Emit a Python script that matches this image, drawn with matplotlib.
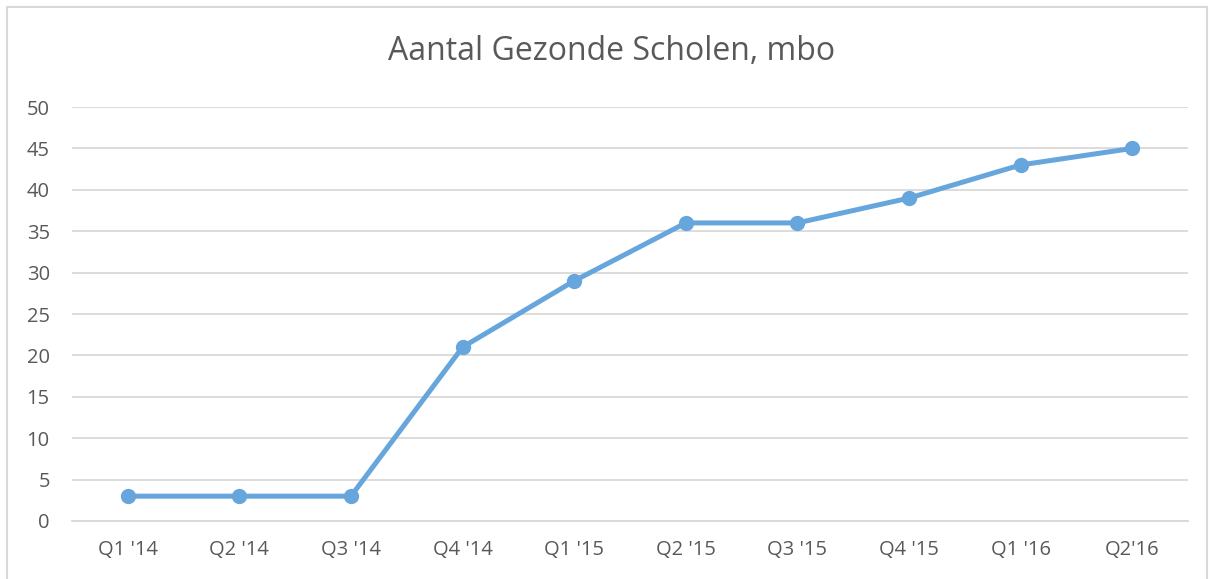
import matplotlib
matplotlib.use('Agg')
from matplotlib import pyplot as plt
from matplotlib.patches import Rectangle

quarters = ["Q1 '14", "Q2 '14", "Q3 '14", "Q4 '14", "Q1 '15", "Q2 '15",
            "Q3 '15", "Q4 '15", "Q1 '16", "Q2'16"]
scholen = [3, 3, 3, 21, 29, 36, 36, 39, 43, 45]
yticks = [0, 5, 10, 15, 20, 25, 30, 35, 40, 45, 50]

plt.rcParams['font.family'] = ['Open Sans', 'DejaVu Sans']
grey = '#595959'

fig = plt.figure(figsize=(12.13, 5.79), dpi=100)
# light frame around the chart
fig.patches.append(Rectangle((7/1213, -0.01), 1200/1213, 1 - 7/579 + 0.01,
                             transform=fig.transFigure, fill=False,
                             edgecolor='#d9d9d9', linewidth=1.5))

ax = fig.add_axes([72/1213, 58/579, 1116/1213, 414/579])
x = list(range(len(quarters)))
ax.plot(x, scholen, color='#67a6dc', linewidth=3.6, marker='o',
        markersize=10, zorder=3)

ax.set_xlim(-0.5, len(quarters) - 0.5)
ax.set_ylim(0, 50)
ax.set_yticks(yticks)
ax.set_xticks(x)
ax.set_xticklabels(quarters)
ax.grid(axis='y', color='#d9d9d9', linewidth=1.3)
ax.set_axisbelow(True)
for s in ['top', 'right', 'left']:
    ax.spines[s].set_visible(False)
ax.spines['bottom'].set_color('#d9d9d9')
ax.spines['bottom'].set_linewidth(1.3)
ax.tick_params(length=0, labelsize=14.5, labelcolor=grey, pad=14)
ax.tick_params(axis='y', pad=16)
for lbl in ax.get_yticklabels():
    lbl.set_horizontalalignment('right')

fig.text(0.504, 1 - 52/579, 'Aantal Gezonde Scholen, mbo', ha='center',
         va='center', fontsize=23, color=grey)

fig.savefig('out.png', dpi=100)
